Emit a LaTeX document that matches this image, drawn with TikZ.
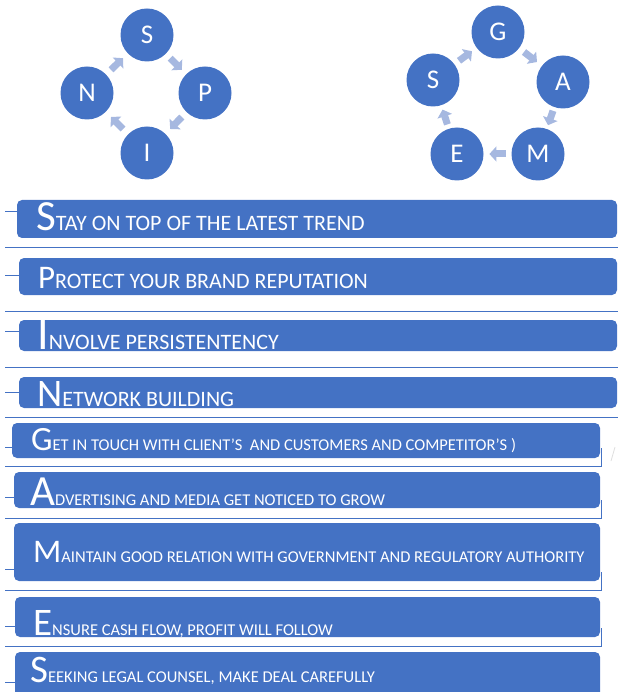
\documentclass[tikz,border=0pt]{standalone}
\usepackage{fontspec}
\setmainfont{Carlito}
\usetikzlibrary{calc,arrows.meta}
\definecolor{accent}{RGB}{68,114,196}
\definecolor{pale}{RGB}{166,184,224}
\tikzset{
  ltr/.style={circle, fill=accent, minimum size=53pt, inner sep=0pt, text=white, font=\fontsize{27}{27}\selectfont},
  flow/.style={pale, line width=7pt, -{Triangle[width=15pt,length=7pt]}},
  bar/.style={fill=accent, rounded corners=5pt},
  sepline/.style={accent, line width=0.8pt},
  itemlabel/.style={anchor=base west, inner sep=0pt, text=white}
}
\def\itemtext[#1](#2)(#3:#4:#5:#6)% Syntax: [name] (base point) (initial size:initial:size:rest)
    { \node[itemlabel] (#1) at (#2) {\fontsize{#3}{#3}\selectfont #4\fontsize{#5}{#5}\selectfont #6}; }

\begin{document}
\begin{tikzpicture}[x=1pt,y=-1pt]
   \useasboundingbox (0,0) rectangle (618,692);

   % the two cycles
   \node[ltr] (sS) at (147,35) {S};
   \node[ltr] (sP) at (205,93) {P};
   \node[ltr] (sI) at (147,153) {I};
   \node[ltr] (sN) at (87,93) {N};

   \node[ltr] (gG) at (498,32) {G};
   \node[ltr] (gA) at (563,82) {A};
   \node[ltr] (gM) at (538,154) {M};
   \node[ltr] (gE) at (457,154) {E};
   \node[ltr] (gS) at (433,80) {S};

   \foreach \a/\b in {sS/sP,sP/sI,sI/sN,sN/sS,gG/gA,gA/gM,gM/gE,gE/gS,gS/gG}
     \draw[flow] ($(\a)!0.40!(\b)$) -- ($(\a)!0.60!(\b)$);

   % rules and ticks, first list
   \begin{scope}
     \foreach \y in {247,311,367,417}
       \draw[sepline] (5,\y) -- (618,\y);
     \foreach \y/\x in {211/17,275/19,331/19,392/19}
       \draw[sepline] (5,\y) -- (\x,\y);
     \fill[bar] (17,200) rectangle (617,238);
     \fill[bar] (19,258) rectangle (617,295);
     \fill[bar] (19,320) rectangle (617,351);
     \fill[bar] (19,377) rectangle (617,408);
   \end{scope}

   % second list, rules turn up at the right
   \begin{scope}
     \foreach \y/\t in {466/448,518/500,590/572,646/628}
       \draw[sepline] (5,\y) -- (601.5,\y) -- (601.5,\t);
     \foreach \y/\x in {447/12,497/14,569/14,626/15,682/15}
       \draw[sepline] (5,\y) -- (\x,\y);
     \fill[bar] (12,423) rectangle (600,458);
     \fill[bar] (14,472) rectangle (600,508);
     \fill[bar] (14,523) rectangle (600,581);
     \fill[bar] (15,597) rectangle (600,637);
     \fill[bar] (15,652) rectangle (600,705);
     \draw[gray!25, line width=0.8pt] (611,461) -- (615,447);
   \end{scope}

   \itemtext[tS](36,231)(43:S:22:TAY ON TOP OF THE LATEST TREND)
   \itemtext[tP](38,288)(33:P:22:ROTECT YOUR BRAND REPUTATION)
   \itemtext[tI](37,349)(46:I:22:NVOLVE PERSISTENTENCY)
   \itemtext[tN](37,406)(39:N:22:ETWORK BUILDING)

   \itemtext[tG](31,450)(34:G:16.5:{ET IN TOUCH WITH CLIENT’S \ AND CUSTOMERS AND COMPETITOR’S )})
   \itemtext[tA](30,505)(43:A:16.5:DVERTISING AND MEDIA GET NOTICED TO GROW)
   \itemtext[tM](33,562)(33:M:16.5:AINTAIN GOOD RELATION WITH GOVERNMENT AND REGULATORY AUTHORITY)
   \itemtext[tE](33,635)(39:E:16.5:NSURE CASH FLOW, PROFIT WILL FOLLOW)
   \itemtext[tS2](30,682)(39:S:16.5:EEKING LEGAL COUNSEL, MAKE DEAL CAREFULLY)
\end{tikzpicture}
\end{document}
